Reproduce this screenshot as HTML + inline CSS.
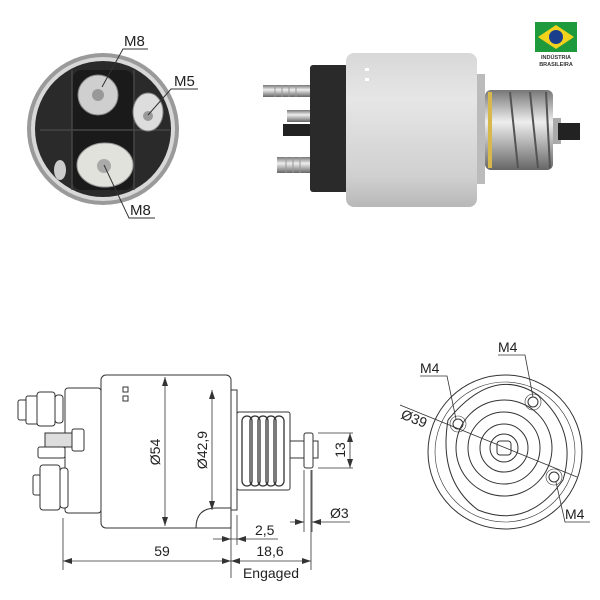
<!DOCTYPE html>
<html><head><meta charset="utf-8"><style>
html,body{margin:0;padding:0;background:#fff;}
svg{display:block;font-family:"Liberation Sans",sans-serif;}
</style></head><body>
<svg width="600" height="600" viewBox="0 0 600 600" xmlns="http://www.w3.org/2000/svg">
<defs>
<linearGradient id="cyl" x1="0" y1="0" x2="0" y2="1">
<stop offset="0" stop-color="#d8d8d8"/><stop offset="0.3" stop-color="#e6e6e6"/><stop offset="0.8" stop-color="#d0d0d0"/><stop offset="1" stop-color="#b8b8b8"/></linearGradient>
<linearGradient id="met" x1="0" y1="0" x2="0" y2="1">
<stop offset="0" stop-color="#777"/><stop offset="0.4" stop-color="#eee"/><stop offset="1" stop-color="#666"/></linearGradient>
</defs>

<!-- Top-left end view -->
<circle cx="103" cy="129" r="76" fill="#9a9a9a"/>
<circle cx="103" cy="129" r="72" fill="#d8d8d8"/>
<circle cx="103" cy="129" r="68" fill="#2a2a2a"/>
<rect x="72" y="70" width="62" height="120" rx="10" fill="#1a1a1a"/>
<g stroke="#444" stroke-width="1.5"><line x1="40" y1="130" x2="170" y2="130"/><line x1="72" y1="70" x2="72" y2="190"/><line x1="134" y1="70" x2="134" y2="190"/></g>
<circle cx="98" cy="95" r="20" fill="#cfcfcf" stroke="#888"/>
<circle cx="98" cy="95" r="6" fill="#999"/>
<ellipse cx="148" cy="112" rx="15" ry="19" fill="#ddd" stroke="#888"/>
<circle cx="148" cy="116" r="5" fill="#999"/>
<ellipse cx="105" cy="165" rx="28" ry="22" fill="#e2e2dc" stroke="#999"/>
<circle cx="104" cy="166" r="7" fill="#aaa"/>
<ellipse cx="60" cy="170" rx="6" ry="10" fill="#ccc"/>
<g stroke="#333" stroke-width="1" fill="none">
<polyline points="102,87 123,49 148,49"/>
<polyline points="148,115 171,89 198,89"/>
<polyline points="104,165 129,218 155,218"/>
</g>
<g font-size="15" fill="#222">
<text x="124" y="46">M8</text>
<text x="174" y="86">M5</text>
<text x="130" y="215">M8</text>
</g>

<!-- Top-right side photo -->
<rect x="263" y="85" width="48" height="12" fill="url(#met)"/>
<rect x="287" y="110" width="48" height="12" fill="url(#met)"/>
<rect x="277" y="157" width="34" height="16" fill="url(#met)"/>
<g stroke="#999" stroke-width="1"><line x1="275" y1="85" x2="275" y2="97"/><line x1="282" y1="85" x2="282" y2="97"/><line x1="289" y1="85" x2="289" y2="97"/><line x1="296" y1="85" x2="296" y2="97"/><line x1="286" y1="157" x2="286" y2="173"/><line x1="293" y1="157" x2="293" y2="173"/><line x1="300" y1="157" x2="300" y2="173"/></g>
<rect x="283" y="124" width="30" height="12" fill="#222"/>
<rect x="310" y="65" width="38" height="127" rx="3" fill="#2a2a2a"/>
<rect x="346" y="53" width="131" height="154" rx="8" fill="url(#cyl)"/>
<rect x="477" y="74" width="8" height="110" fill="#bbb"/>
<rect x="485" y="90" width="68" height="80" rx="6" fill="url(#met)"/>
<rect x="488" y="92" width="4" height="76" fill="#d6b94a"/>
<g stroke="#555" stroke-width="2" fill="none">
<line x1="510" y1="92" x2="518" y2="168"/><line x1="530" y1="92" x2="538" y2="168"/><line x1="546" y1="92" x2="550" y2="168"/>
</g>
<rect x="553" y="118" width="8" height="26" fill="#aaa"/>
<rect x="558" y="123" width="22" height="17" fill="#222"/>
<rect x="365" y="68" width="4" height="3" fill="#fff"/><rect x="365" y="78" width="4" height="3" fill="#fff"/>

<!-- Flag -->
<rect x="535" y="22" width="42" height="30" fill="#1e9a3c"/>
<polygon points="556,25 574,37 556,49 538,37" fill="#f2d21c"/>
<circle cx="556" cy="37" r="7" fill="#1a3e8c"/>
<text x="556" y="59" font-size="5.5" font-weight="bold" text-anchor="middle" fill="#333">INDÚSTRIA</text>
<text x="556" y="66" font-size="5.5" font-weight="bold" text-anchor="middle" fill="#333">BRASILEIRA</text>

<!-- Bottom-left drawing -->
<g stroke="#333" stroke-width="1" fill="#fff">
<rect x="65" y="388" width="36" height="125" rx="3"/>
<rect x="38" y="447" width="27" height="11" rx="2"/>
<rect x="18" y="400" width="12" height="20" rx="2"/>
<rect x="26" y="396" width="14" height="28" rx="2"/>
<rect x="37" y="392" width="18" height="34" rx="3"/>
<rect x="55" y="395" width="8" height="28" rx="3"/>
<rect x="45" y="433" width="28" height="14" fill="#ddd"/>
<rect x="72" y="429" width="12" height="22" rx="2"/>
<rect x="33" y="475" width="8" height="20" rx="2"/>
<rect x="40" y="465" width="20" height="45" rx="3"/>
<rect x="60" y="468" width="8" height="40" rx="3"/>
<rect x="101" y="375" width="130" height="153" rx="5"/>
<rect x="231" y="390" width="6" height="120"/>
<rect x="237" y="412" width="53" height="78" rx="2"/>
<rect x="290" y="441" width="28" height="17"/>
<rect x="304" y="433" width="9" height="35" rx="2"/>
<path d="M196,528 q0,-20 20,-20 h15 v20 z"/>
<rect x="123" y="387" width="5" height="5"/><rect x="123" y="396" width="5" height="5"/>
</g>
<g stroke="#333" stroke-width="1.3" fill="none">
<rect x="242" y="416" width="10" height="70" rx="5"/>
<rect x="250" y="416" width="10" height="70" rx="5"/>
<rect x="258" y="416" width="10" height="70" rx="5"/>
<rect x="266" y="416" width="10" height="70" rx="5"/>
<rect x="274" y="416" width="10" height="70" rx="5"/>
</g>
<g stroke="#333" stroke-width="0.8" fill="none">
<line x1="165" y1="377" x2="165" y2="526"/>
<line x1="212" y1="390" x2="212" y2="510"/>
<line x1="318" y1="433" x2="353" y2="433"/><line x1="318" y1="468" x2="353" y2="468"/>
<line x1="350" y1="433" x2="350" y2="468"/>
<line x1="304" y1="470" x2="304" y2="532"/><line x1="312" y1="470" x2="312" y2="532"/>
<line x1="290" y1="522" x2="304" y2="522"/><line x1="312" y1="522" x2="350" y2="522"/>
<line x1="213" y1="539" x2="278" y2="539"/>
<line x1="63" y1="518" x2="63" y2="570"/><line x1="231" y1="528" x2="231" y2="578"/><line x1="237" y1="515" x2="237" y2="545"/><line x1="311" y1="470" x2="311" y2="570"/>
<line x1="63" y1="561" x2="311" y2="561"/>
</g>
<g fill="#333">
<polygon points="165,377 162,386 168,386"/><polygon points="165,526 162,517 168,517"/>
<polygon points="212,390 209,399 215,399"/><polygon points="212,510 209,501 215,501"/>
<polygon points="350,433 347,442 353,442"/><polygon points="350,468 347,459 353,459"/>
<polygon points="304,522 295,519 295,525"/><polygon points="312,522 321,519 321,525"/>
<polygon points="231,539 222,536 222,542"/><polygon points="237,539 246,536 246,542"/>
<polygon points="63,561 72,558 72,564"/><polygon points="231,561 222,558 222,564"/>
<polygon points="231,561 240,558 240,564"/><polygon points="311,561 302,558 302,564"/>
</g>
<g font-size="14" fill="#222">
<text transform="translate(160,452) rotate(-90)" text-anchor="middle">Ø54</text>
<text transform="translate(207,450) rotate(-90)" text-anchor="middle">Ø42,9</text>
<text transform="translate(345,450) rotate(-90)" text-anchor="middle">13</text>
<text x="330" y="518">Ø3</text>
<text x="255" y="535">2,5</text>
<text x="162" y="556" text-anchor="middle">59</text>
<text x="270" y="556" text-anchor="middle">18,6</text>
<text x="271" y="578" text-anchor="middle">Engaged</text>
</g>

<!-- Bottom-right drawing -->
<g stroke="#333" stroke-width="1" fill="none">
<circle cx="505" cy="452" r="77"/>
<circle cx="505" cy="452" r="70" stroke-width="0.6"/>
<path d="M448,420 q-10,60 30,90 q50,20 85,-30 q15,-50 -25,-85 q-45,-30 -90,25" stroke-width="1"/>
<circle cx="504" cy="448" r="48"/>
<circle cx="504" cy="448" r="36"/>
<circle cx="504" cy="448" r="24"/>
<circle cx="504" cy="448" r="14"/>
<rect x="497" y="441" width="14" height="14" rx="3"/>
<circle cx="533" cy="402" r="5"/><circle cx="458" cy="424" r="5"/><circle cx="554" cy="477" r="5"/>
<circle cx="533" cy="402" r="8" stroke-width="0.6"/><circle cx="458" cy="424" r="8" stroke-width="0.6"/><circle cx="554" cy="477" r="8" stroke-width="0.6"/>
<line x1="400" y1="405" x2="577" y2="477" stroke-width="0.8"/>
<polyline points="498,355 525,355 533,397" stroke-width="0.8"/>
<polyline points="420,376 447,376 456,419" stroke-width="0.8"/>
<polyline points="556,482 565,522 590,522" stroke-width="0.8"/>
</g>
<g font-size="14" fill="#222">
<text x="498" y="352">M4</text>
<text x="420" y="373">M4</text>
<text x="565" y="519">M4</text>
<text transform="translate(400,418) rotate(22)">Ø39</text>
</g>
</svg>
</body></html>
